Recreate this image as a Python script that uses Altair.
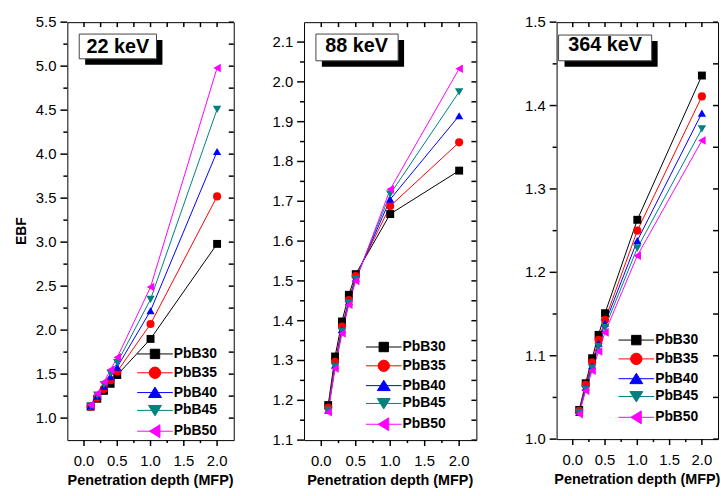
import altair as alt
import pandas as pd

FONT = "Liberation Sans"

depth = [0.1, 0.2, 0.3, 0.4, 0.5, 1.0, 2.0]
series = ["PbB30", "PbB35", "PbB40", "PbB45", "PbB50"]
colors = ["#000000", "#ff0000", "#0000ff", "#008080", "#ff00ff"]
shapes = ["square", "circle", "triangle-up", "triangle-down", "triangle-left"]
point_sizes = [64, 75, 115, 115, 140]

# legend symbols: a short line with the marker in the middle
legend_paths = [
    "M-3.6,0H3.6M-0.95,-0.95H0.95V0.95H-0.95Z",
    "M-3.6,0H3.6M-1.15,0A1.15,1.15,0,1,0,1.15,0A1.15,1.15,0,1,0,-1.15,0Z",
    "M-3.6,0H3.6M0,-1.1L1.3,1.0H-1.3Z",
    "M-3.6,0H3.6M-1.3,-1.0H1.3L0,1.1Z",
    "M-3.6,0H3.6M-1.1,0L1.0,-1.3V1.3Z",
]

ebf_22kev = {
    "PbB30": [1.13, 1.22, 1.31, 1.39, 1.49, 1.90, 2.98],
    "PbB35": [1.13, 1.23, 1.33, 1.43, 1.53, 2.07, 3.52],
    "PbB40": [1.14, 1.25, 1.36, 1.47, 1.58, 2.22, 4.03],
    "PbB45": [1.14, 1.26, 1.38, 1.51, 1.63, 2.35, 4.51],
    "PbB50": [1.15, 1.28, 1.41, 1.55, 1.69, 2.49, 4.98],
}
ebf_88kev = {
    "PbB30": [1.188, 1.310, 1.398, 1.465, 1.517, 1.668, 1.777],
    "PbB35": [1.182, 1.297, 1.385, 1.452, 1.512, 1.688, 1.848],
    "PbB40": [1.175, 1.288, 1.378, 1.448, 1.507, 1.705, 1.915],
    "PbB45": [1.175, 1.285, 1.374, 1.445, 1.505, 1.718, 1.975],
    "PbB50": [1.170, 1.280, 1.368, 1.440, 1.500, 1.730, 2.033],
}
ebf_364kev = {
    "PbB30": [1.035, 1.067, 1.097, 1.125, 1.151, 1.263, 1.436],
    "PbB35": [1.034, 1.065, 1.092, 1.119, 1.143, 1.250, 1.411],
    "PbB40": [1.032, 1.062, 1.088, 1.115, 1.139, 1.238, 1.391],
    "PbB45": [1.032, 1.060, 1.085, 1.111, 1.134, 1.229, 1.372],
    "PbB50": [1.030, 1.058, 1.082, 1.105, 1.128, 1.220, 1.358],
}

x_ticks = [0.0, 0.25, 0.5, 0.75, 1.0, 1.25, 1.5, 1.75, 2.0]
x_domain = [-0.25, 2.25]
x_title = "Penetration depth (MFP)"
y_title = "EBF"


def steps(a, b, s):
    n = int(round((b - a) / s))
    return [round(a + i * s, 4) for i in range(n + 1)]


def long_df(values):
    rows = []
    for k, name in enumerate(series):
        for d, v in zip(depth, values[name]):
            rows.append({"depth": d, "ebf": v, "series": name, "k": k})
    return pd.DataFrame(rows)


def is_major(v, mult):
    return abs(v * mult - round(v * mult)) < 1e-6


def tick_df(vals, mult):
    return pd.DataFrame({
        "v": vals,
        "major": [is_major(v, mult) for v in vals],
        "lab": [f"{v:.1f}" for v in vals],
    })


def panel(label, values, ydom, yticks, ymult, W, H, show_ytitle, box, txt_c, leg_xy):
    df = long_df(values)
    xs = alt.Scale(domain=x_domain, nice=False, zero=False)
    ys = alt.Scale(domain=ydom, nice=False, zero=False)
    X = lambda f: alt.X(f, scale=xs, axis=None)
    Y = lambda f: alt.Y(f, scale=ys, axis=None)

    color = alt.Color("series:N", scale=alt.Scale(domain=series, range=colors), legend=None)
    base = alt.Chart(df)
    line = base.mark_line(strokeWidth=1).encode(
        x=X("depth:Q"), y=Y("ebf:Q"), color=color, order="depth:Q",
    )
    pts = base.mark_point(filled=True, opacity=1).encode(
        x=X("depth:Q"), y=Y("ebf:Q"),
        color=color,
        shape=alt.Shape("series:N", scale=alt.Scale(domain=series, range=shapes), legend=None),
        size=alt.Size("series:N", scale=alt.Scale(domain=series, range=point_sizes), legend=None),
        order="k:Q",
    )
    leg = alt.Legend(
        orient="none", legendX=leg_xy[0], legendY=leg_xy[1], title=None,
        labelFont=FONT, labelFontSize=14, labelFontWeight="bold", labelColor="black",
        symbolSize=100, symbolStrokeWidth=1, symbolOpacity=1, labelOffset=12,
        rowPadding=4, padding=0,
    )
    legend_layer = base.mark_point(filled=True, opacity=0).encode(
        x=X("depth:Q"), y=Y("ebf:Q"),
        fill=alt.Fill("series:N", scale=alt.Scale(domain=series, range=colors), legend=leg),
        stroke=alt.Stroke("series:N", scale=alt.Scale(domain=series, range=colors), legend=leg),
        shape=alt.Shape("series:N", scale=alt.Scale(domain=series, range=legend_paths), legend=leg),
    )

    # ticks (outward on left/bottom, inward on right/top) and tick labels
    yt = alt.Chart(tick_df(yticks, ymult))
    xt = alt.Chart(tick_df(x_ticks, 2))
    rule = dict(color="black", strokeWidth=1.5, opacity=1)
    y_major = yt.transform_filter("datum.major").mark_rule(**rule).encode(
        y=Y("v:Q"), x=alt.value(-7), x2=alt.value(0))
    y_minor = yt.transform_filter("!datum.major").mark_rule(**rule).encode(
        y=Y("v:Q"), x=alt.value(-4), x2=alt.value(0))
    y_right = yt.mark_rule(**rule).encode(y=Y("v:Q"), x=alt.value(W - 5), x2=alt.value(W))
    x_major = xt.transform_filter("datum.major").mark_rule(**rule).encode(
        x=X("v:Q"), y=alt.value(H), y2=alt.value(H + 6))
    x_minor = xt.transform_filter("!datum.major").mark_rule(**rule).encode(
        x=X("v:Q"), y=alt.value(H), y2=alt.value(H + 3))
    x_top = xt.mark_rule(**rule).encode(x=X("v:Q"), y=alt.value(0), y2=alt.value(5))

    lab = dict(font=FONT, fontSize=15, color="black")
    y_labels = yt.transform_filter("datum.major").mark_text(
        align="right", baseline="middle", **lab).encode(
        y=Y("v:Q"), x=alt.value(-11), text="lab:N")
    x_labels = xt.transform_filter("datum.major").mark_text(
        align="center", baseline="top", **lab).encode(
        x=X("v:Q"), y=alt.value(H + 14), text="lab:N")

    ann = alt.Chart(pd.DataFrame({"label": [label], "xt": [x_title], "yt": [y_title]}))
    xtitle = ann.mark_text(font=FONT, fontSize=14.5, fontWeight="bold", color="black",
                           align="center", baseline="top").encode(
        x=alt.value(W / 2), y=alt.value(H + 34), text="xt:N")
    bx0, bx1, by0, by1 = box
    shadow = ann.mark_rect(fill="black").encode(
        x=alt.value(bx0 + 6), x2=alt.value(bx1 + 6), y=alt.value(by0 + 6), y2=alt.value(by1 + 6))
    frame = ann.mark_rect(fill="white", stroke="#444444", strokeWidth=1).encode(
        x=alt.value(bx0), x2=alt.value(bx1), y=alt.value(by0), y2=alt.value(by1))
    text = ann.mark_text(font=FONT, fontSize=20, fontWeight="bold", color="black",
                         align="center", baseline="middle").encode(
        x=alt.value(txt_c[0]), y=alt.value(txt_c[1] + 1), text="label:N")

    layers = [line, pts, legend_layer, y_major, y_minor, y_right, x_major, x_minor, x_top,
              y_labels, x_labels, xtitle, shadow, frame, text]
    if show_ytitle:
        ytitle = ann.mark_text(font=FONT, fontSize=14, fontWeight="bold", color="black",
                               align="center", baseline="bottom", angle=270).encode(
            x=alt.value(-39), y=alt.value(H / 2), text="yt:N")
        layers.append(ytitle)

    return alt.layer(*layers).resolve_scale(
        shape="independent", fill="independent", stroke="independent"
    ).properties(width=W, height=H)


p1 = panel("22 keV", ebf_22kev, [0.75, 5.5], steps(1.0, 5.5, 0.25), 2, 168, 422, True,
           (12, 90, 12, 37), (51, 24), (81.5, 328))
p2 = panel("88 keV", ebf_88kev, [1.1, 2.15], steps(1.1, 2.1, 0.05), 10, 174, 422, False,
           (12, 95, 12, 39), (53, 23.3), (73.5, 321))
p3 = panel("364 keV", ebf_364kev, [1.0, 1.5], steps(1.0, 1.5, 0.05), 10, 163, 421, False,
           (2, 96, 13, 39), (49, 22.5), (73.5, 314))

chart = alt.hconcat(p1, alt.hconcat(p2, p3, spacing=46), spacing=36).properties(
    padding={"left": 14, "top": 12, "right": 0, "bottom": 0}
).configure_view(stroke="black", strokeWidth=1)

chart.save("out.html", embed_options={"renderer": "svg", "actions": False})
